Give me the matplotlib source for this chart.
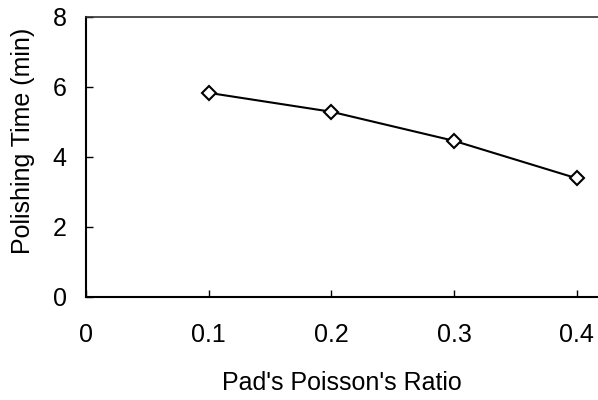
import matplotlib
matplotlib.use("Agg")
import matplotlib.pyplot as plt

# Polishing time versus pad Poisson's ratio
poisson_ratio = [0.1, 0.2, 0.3, 0.4]
polishing_time = [5.82, 5.28, 4.45, 3.38]

x_ticks = [0, 0.1, 0.2, 0.3, 0.4]
x_tick_labels = ["0", "0.1", "0.2", "0.3", "0.4"]
y_ticks = [0, 2, 4, 6, 8]
y_tick_labels = ["0", "2", "4", "6", "8"]

plt.rcParams["font.family"] = ["Liberation Sans", "DejaVu Sans"]

W, H = 598, 400
fig = plt.figure(figsize=(W / 100, H / 100), dpi=100)
ax = fig.add_axes([86 / W, 1 - 296.7 / H, 1 - 86 / W, (296.7 - 16.5) / H])

ax.plot(poisson_ratio, polishing_time, color="black", lw=1.5,
        marker="D", markersize=7.5, markerfacecolor="white",
        markeredgecolor="black", markeredgewidth=1.5)

ax.set_xlim(0, 0.4173)
ax.set_ylim(0, 8)
ax.set_xticks(x_ticks)
ax.set_xticklabels(x_tick_labels)
ax.set_yticks(y_ticks)
ax.set_yticklabels(y_tick_labels)

ax.tick_params(axis="both", direction="in", length=5, width=1, labelsize=18)
ax.tick_params(axis="x", pad=19)
ax.tick_params(axis="y", pad=14)

for side in ("left", "bottom"):
    ax.spines[side].set_linewidth(1.5)
ax.spines["top"].set_linewidth(1.2)
ax.spines["top"].set_color("#333333")
ax.spines["right"].set_visible(False)

fig.text(342 / W, 1 - 383 / H, "Pad's Poisson's Ratio",
         ha="center", va="center", fontsize=18)
fig.text(23 / W, 1 - 141 / H, "Polishing Time (min)", rotation=90,
         ha="center", va="center", fontsize=18)

fig.savefig("out.png", dpi=100)
